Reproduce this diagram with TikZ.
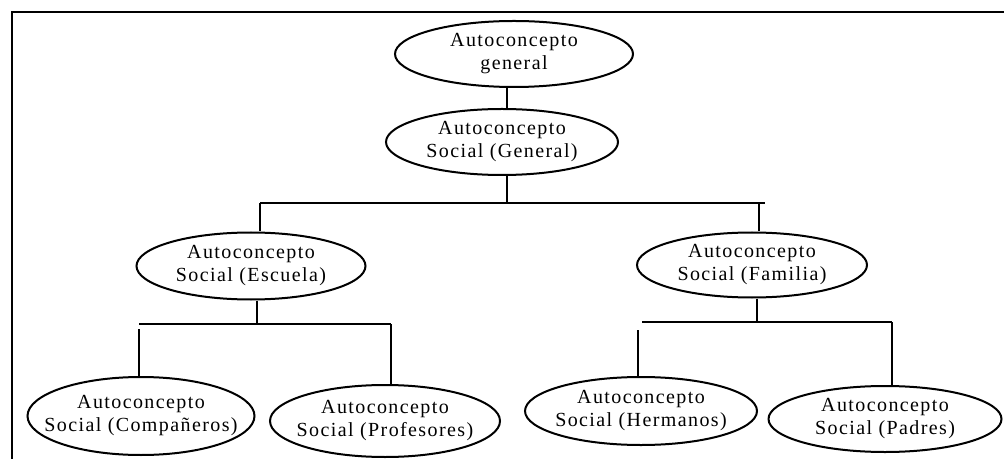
\documentclass[tikz,border=0pt]{standalone}
\usepackage{fontspec}
\setmainfont[LetterSpace=7]{Liberation Serif}
\usetikzlibrary{shapes.geometric}

\begin{document}
\begin{tikzpicture}[x=0.5pt,y=-0.5pt]
        \tikzstyle{oval} = [draw, ellipse, line width=1pt, inner xsep=-20pt, inner ysep=-6pt, align=center, font=\fontsize{10}{11.5}\selectfont]
        \tikzstyle{link} = [line width=1pt]
        \useasboundingbox (0,0) rectangle (1004,459);
        \draw[line width=0.9pt] (12,12) rectangle (1012,470);
        \node (gen) [oval, minimum width=119pt, minimum height=33pt] at (514,54) {Autoconcepto\\general};
        \node (socgen) [oval, minimum width=116pt, minimum height=33pt] at (502,142) {Autoconcepto\\Social (General)};
        \node (esc) [oval, minimum width=114.5pt, minimum height=33.5pt] at (251,266) {Autoconcepto\\Social (Escuela)};
        \node (fam) [oval, minimum width=115pt, minimum height=32.5pt] at (752,265) {Autoconcepto\\Social (Familia)};
        \node (comp) [oval, minimum width=113.5pt, minimum height=39pt] at (141,416) {Autoconcepto\\Social (Compañeros)};
        \node (prof) [oval, minimum width=115pt, minimum height=36pt] at (385,421) {Autoconcepto\\Social (Profesores)};
        \node (herm) [oval, minimum width=116pt, minimum height=34pt] at (641,411) {Autoconcepto\\Social (Hermanos)};
        \node (pad) [oval, minimum width=116.5pt, minimum height=33pt] at (885,419) {Autoconcepto\\Social (Padres)};
        % general to school / family
        \coordinate (tA) at (507,203);
        \coordinate (lA) at (260,203);
        \coordinate (rA) at (765,203);
        \draw[link] (gen.south -| tA) -- (socgen.north -| tA);
        \draw[link] (socgen.south -| tA) -- (tA);
        \draw[link] (lA) -- (rA);
        \draw[link] (lA) -- (lA |- esc.north);
        \draw[link] ([xshift=-3pt]rA) -- ([xshift=-3pt]rA |- fam.north);
        % school
        \coordinate (tB) at (257,324);
        \coordinate (lB) at (139,324);
        \coordinate (rB) at (391,324);
        \draw[link] (esc.south -| tB) -- (tB);
        \draw[link] (lB) -- (rB);
        \draw[link] ([yshift=-2.5pt]lB) -- (lB |- comp.north);
        \draw[link] (rB) -- (rB |- prof.north);
        % family
        \coordinate (tC) at (757,322);
        \coordinate (lC) at (642,322);
        \coordinate (rC) at (892,322);
        \draw[link] (fam.south -| tC) -- (tC);
        \draw[link] (lC) -- (rC);
        \draw[link] ([xshift=-2pt,yshift=-4pt]lC) -- ([xshift=-2pt]lC |- herm.north);
        \draw[link] (rC) -- (rC |- pad.north);
\end{tikzpicture}
\end{document}
